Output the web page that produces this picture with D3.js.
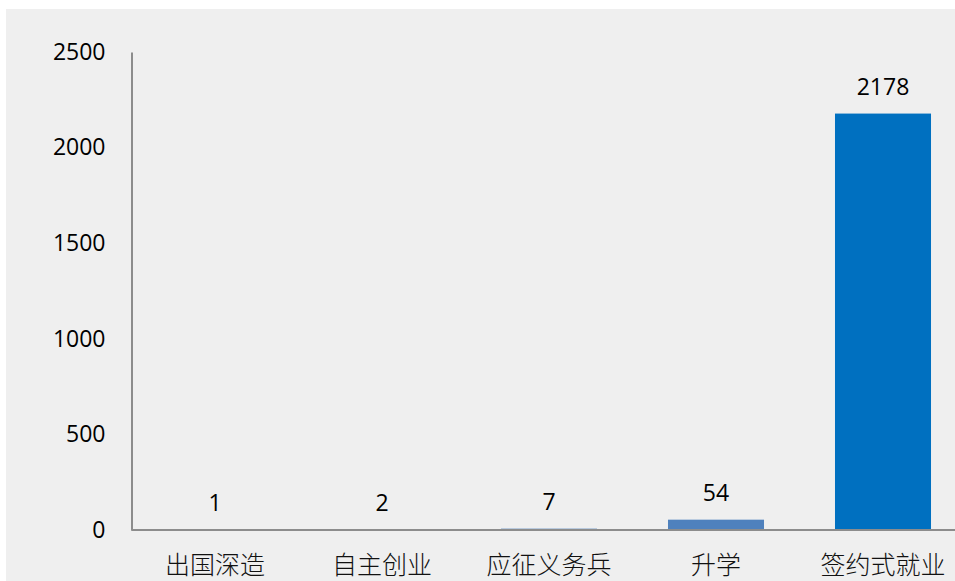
<!DOCTYPE html>
<html lang="zh">
<head>
<meta charset="UTF-8">
<script src="https://d3js.org/d3.v7.min.js"></script>
<style>
  body { margin: 0; background: #fff; }
  svg { display: block; }
</style>
</head>
<body>
<script>
// chart data
var categories = ["出国深造", "自主创业", "应征义务兵", "升学", "签约式就业"];
var values = [1, 2, 7, 54, 2178];
var barColors = ["#4f81bd", "#4f81bd", "#4f81bd", "#4f81bd", "#0070c0"];
var yTicks = [0, 500, 1000, 1500, 2000, 2500];

var W = 955, H = 581;
var left = 131.5, baseY = 530, topY = 52;

var svg = d3.select("body").append("svg")
  .attr("width", W).attr("height", H);

// gray panel
svg.append("rect")
  .attr("x", 6).attr("y", 9)
  .attr("width", W - 6).attr("height", H - 9)
  .attr("fill", "#efefef");

var x = d3.scaleBand()
  .domain(categories)
  .range([left, left + 5 * 167])
  .paddingInner(0.425)
  .paddingOuter(0.2125);

var y = d3.scaleLinear().domain([0, 2500]).range([baseY, topY]);

// bars
svg.append("g").selectAll("rect").data(categories).enter().append("rect")
  .attr("x", function(d) { return x(d); })
  .attr("y", function(d, i) { return y(values[i]); })
  .attr("width", x.bandwidth())
  .attr("height", function(d, i) { return baseY - y(values[i]); })
  .attr("fill", function(d, i) { return barColors[i]; });

// y axis
var yAxis = d3.axisLeft(y).tickValues(yTicks).tickFormat(d3.format("d"))
  .tickSize(0).tickPadding(26);
var gy = svg.append("g").attr("transform", "translate(" + left + ",0)").call(yAxis);
gy.select(".domain").attr("stroke", "#8c8c8c").attr("stroke-width", 2);
gy.selectAll("text")
  .style("font-family", "'Open Sans', 'Liberation Sans', sans-serif")
  .style("font-size", "23px")
  .attr("fill", "#000");

// baseline
svg.append("line")
  .attr("x1", left).attr("x2", W)
  .attr("y1", baseY).attr("y2", baseY)
  .attr("stroke", "#8c8c8c").attr("stroke-width", 2);

// category labels
svg.append("g").selectAll("text").data(categories).enter().append("text")
  .attr("x", function(d) { return x(d) + x.bandwidth() / 2; })
  .attr("y", 574)
  .attr("text-anchor", "middle")
  .style("font-family", "'Noto Sans CJK SC', sans-serif")
  .style("font-size", "25px")
  .style("font-weight", "300")
  .attr("fill", "#111")
  .text(function(d) { return d; });

// value labels
svg.append("g").selectAll("text").data(categories).enter().append("text")
  .attr("x", function(d) { return x(d) + x.bandwidth() / 2; })
  .attr("y", function(d, i) { return y(values[i]) - 19; })
  .attr("text-anchor", "middle")
  .style("font-family", "'Open Sans', 'Liberation Sans', sans-serif")
  .style("font-size", "23px")
  .attr("fill", "#000")
  .text(function(d, i) { return values[i]; });
</script>
</body>
</html>
